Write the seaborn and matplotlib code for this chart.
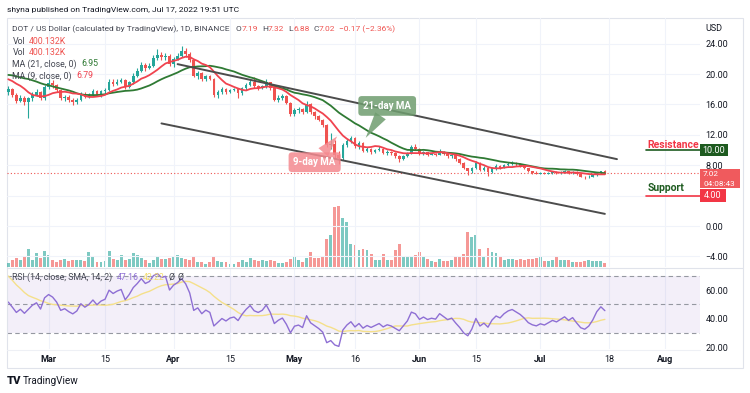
import numpy as np
import pandas as pd
import matplotlib
matplotlib.use("Agg")
import matplotlib.pyplot as plt
import matplotlib.dates as mdates
import matplotlib.transforms as mtrans
import seaborn as sns
from matplotlib.lines import Line2D
from matplotlib.patches import Rectangle

# ---------------- data ----------------
warmup_start = "2022-01-30"        # 20 warm-up days (needed for MA/RSI, left of the view)
first_visible = "2022-02-19"
warmup_close = [18.5, 19.1, 20.0, 18.9, 18.7, 20.8, 21.2, 21.2, 21.8, 21.0,
                21.6, 20.9, 19.5, 19.6, 19.4, 19.8, 21.0, 20.3, 18.6, 17.6]

close = [18.0, 17.3, 16.5, 16.9, 16.3, 16.8, 17.3, 17.6, 16.8, 18.3,
         18.8, 18.5, 17.9, 16.8, 17.0, 16.6, 16.3, 16.6, 17.4, 17.0,
         17.3, 17.8, 17.3, 17.7, 17.9, 19.0, 18.7, 19.0, 19.2, 18.3,
         18.9, 19.8, 20.4, 21.2, 20.8, 21.1, 22.1, 22.5, 22.2, 22.4,
         21.3, 22.0, 22.4, 23.0, 22.6, 21.8, 19.8, 20.1, 19.3, 19.7,
         19.4, 17.2, 17.6, 18.0, 17.6, 17.9, 18.0, 17.5, 18.1, 18.6,
         19.0, 18.4, 18.2, 18.4, 18.9, 18.1, 16.6, 16.9, 17.1, 16.2,
         14.7, 15.3, 15.4, 15.0, 16.1, 15.0, 14.5, 14.0, 13.3, 10.6,
         10.8, 9.4, 8.9, 10.6, 11.2, 11.6, 10.5, 10.9, 9.9, 10.2,
         9.8, 10.0, 10.2, 9.6, 9.8, 9.6, 9.2, 8.8, 9.2, 9.6,
         10.4, 10.2, 9.5, 9.7, 9.4, 9.5, 9.4, 9.8, 9.5, 9.2,
         9.3, 8.8, 8.3, 7.6, 7.2, 7.6, 8.3, 7.4, 7.6, 7.1,
         7.6, 7.9, 7.7, 8.0, 8.2, 8.3, 8.1, 7.9, 7.6, 7.2,
         7.0, 6.9, 7.0, 6.9, 7.0, 7.1, 7.0, 7.1, 7.2, 7.0,
         7.1, 6.8, 6.5, 6.4, 6.5, 6.7, 7.0, 7.19, 7.02]

high = [18.4, 18.2, 17.5, 17.3, 17.1, 17.0, 17.6, 18.0, 17.8, 18.6,
        19.3, 19.2, 18.7, 18.0, 17.3, 17.2, 16.9, 16.9, 17.6, 17.6,
        17.5, 18.0, 17.9, 17.9, 18.2, 19.3, 19.3, 19.4, 19.5, 19.3,
        19.1, 20.1, 20.8, 21.6, 21.4, 21.4, 22.5, 23.3, 22.9, 22.8,
        22.6, 22.3, 22.7, 23.7, 23.4, 22.9, 22.0, 20.4, 20.2, 19.9,
        19.9, 19.5, 17.9, 18.3, 18.2, 18.0, 18.2, 18.1, 18.3, 18.8,
        19.3, 19.6, 18.6, 18.6, 19.4, 19.0, 18.2, 17.2, 17.4, 17.2,
        16.3, 15.5, 15.7, 15.5, 16.4, 16.2, 15.1, 14.6, 14.1, 13.4,
        12.2, 11.3, 9.9, 10.9, 11.5, 11.9, 11.7, 11.2, 11.0, 10.4,
        10.3, 10.2, 10.5, 10.3, 10.0, 9.9, 9.7, 9.3, 9.4, 9.8,
        10.6, 10.8, 10.3, 9.9, 9.8, 9.6, 9.6, 10.1, 9.9, 9.6,
        9.5, 9.4, 8.9, 8.4, 7.7, 7.8, 8.5, 8.4, 7.9, 7.7,
        7.8, 8.1, 8.0, 8.2, 8.4, 8.6, 8.4, 8.3, 8.0, 7.7,
        7.3, 7.2, 7.1, 7.1, 7.1, 7.3, 7.2, 7.3, 7.4, 7.3,
        7.2, 7.2, 6.9, 6.6, 6.7, 6.8, 7.1, 7.3, 7.32]

low = [17.3, 17.0, 16.2, 16.3, 15.9, 14.2, 16.5, 17.1, 16.6, 16.6,
       18.0, 18.1, 17.6, 16.6, 16.5, 16.3, 15.9, 16.0, 16.4, 16.8,
       16.8, 17.1, 17.1, 17.0, 17.4, 17.7, 18.4, 18.5, 18.8, 18.0,
       18.1, 18.7, 19.6, 20.2, 20.4, 20.6, 20.9, 21.9, 21.9, 21.8,
       21.0, 20.9, 21.8, 22.2, 22.3, 21.6, 19.6, 19.4, 19.1, 19.1,
       19.2, 17.0, 16.9, 17.4, 17.4, 17.5, 17.7, 16.9, 17.3, 17.9,
       18.4, 18.2, 17.9, 18.0, 18.2, 17.9, 16.4, 16.3, 16.6, 16.0,
       14.5, 14.5, 14.9, 14.8, 14.9, 14.7, 14.1, 13.8, 13.0, 10.4,
       10.2, 9.0, 8.1, 8.7, 10.4, 10.9, 10.3, 10.2, 9.7, 9.7,
       9.5, 9.6, 9.9, 9.5, 9.4, 9.4, 9.0, 8.4, 8.7, 9.1,
       9.5, 10.0, 9.3, 9.3, 9.2, 9.3, 9.2, 9.3, 9.3, 9.0,
       9.0, 8.6, 8.1, 7.5, 6.7, 7.0, 7.5, 7.3, 7.3, 6.6,
       7.0, 7.4, 7.5, 7.6, 7.9, 8.0, 7.9, 7.8, 7.5, 7.1,
       6.9, 6.8, 6.8, 6.8, 6.8, 6.9, 6.8, 6.9, 7.0, 6.9,
       6.9, 6.7, 6.4, 6.2, 6.3, 6.4, 6.6, 6.9, 6.88]

volume_k = [430, 670, 930, 700, 1070, 1770, 700, 1400, 930, 1570,
            1200, 700, 530, 700, 770, 600, 730, 670, 670, 600,
            1500, 1100, 530, 530, 600, 1570, 800, 670, 1170, 730,
            800, 1430, 1170, 930, 730, 400, 670, 1000, 830, 770,
            870, 1000, 1230, 930, 800, 730, 1000, 500, 470, 330,
            500, 1100, 600, 470, 470, 300, 300, 470, 670, 470,
            930, 670, 630, 700, 570, 670, 600, 430, 430, 530,
            800, 1070, 670, 530, 870, 1500, 870, 870, 1000, 2830,
            3170, 6030, 6100, 4930, 4500, 2330, 2170, 1700, 1800, 1700,
            1330, 670, 670, 1270, 700, 670, 1670, 2330, 1000, 1000,
            1070, 1200, 1470, 1000, 770, 570, 470, 770, 600, 600,
            730, 1000, 1000, 1270, 3500, 3030, 3200, 1770, 1070, 1900,
            1530, 1400, 1130, 700, 770, 800, 670, 800, 670, 800,
            800, 870, 1000, 600, 600, 700, 1070, 730, 730, 730,
            470, 470, 530, 570, 670, 630, 600, 600, 400.132]

date_ticks = ["2022-03-01", "2022-03-15", "2022-04-01", "2022-04-15", "2022-05-01", "2022-05-16",
              "2022-06-01", "2022-06-15", "2022-07-01", "2022-07-18", "2022-08-01"]
date_labels = ["Mar", "15", "Apr", "15", "May", "16", "Jun", "15", "Jul", "18", "Aug"]
price_ticks = [24, 20, 16, 12, 8, 0, -4]
rsi_ticks = [20, 40, 60]

# drawn annotations (date, price)
upper_channel = [("2022-04-02", 21.3), ("2022-07-20", 8.8)]
lower_channel = [("2022-03-29", 13.5), ("2022-07-17", 1.6)]
resistance_level, support_level, last_price = 10.0, 4.0, 7.02

# ---------------- style ----------------
sns.set_theme(style="white")
plt.rcParams['font.family'] = ['Roboto', 'DejaVu Sans']
GREEN, RED = '#26a69a', '#ef5350'
DARK = '#434651'
W, H = 750, 393

fig = plt.figure(figsize=(W / 100, H / 100), dpi=100)
fig.patch.set_facecolor('white')


def rect(x0, y0, x1, y1):
    return [x0 / W, 1 - y1 / H, (x1 - x0) / W, (y1 - y0) / H]


ax = fig.add_axes(rect(7, 18, 700, 267))
axv = ax.twinx()
axr = fig.add_axes(rect(7, 268, 700, 349), sharex=ax)
ax.set_zorder(2)
axv.set_zorder(1)
ax.patch.set_visible(False)


def dn(s):
    return mdates.date2num(pd.Timestamp(s))


# ---------------- computed series ----------------
dates_all = pd.date_range(warmup_start, periods=len(warmup_close) + len(close), freq='D')
df = pd.DataFrame({'x': mdates.date2num(dates_all), 'close': warmup_close + close})
df['ma9'] = df['close'].rolling(9).mean()
df['ma21'] = df['close'].rolling(21).mean()
d = df['close'].diff()
up_avg = d.clip(lower=0).ewm(alpha=1 / 14, adjust=False).mean()
dn_avg = (-d.clip(upper=0)).ewm(alpha=1 / 14, adjust=False).mean()
df['rsi'] = 100 - 100 / (1 + up_avg / dn_avg)
df['rsi_sma'] = df['rsi'].rolling(14).mean()

nw = len(warmup_close)
vis = df.iloc[nw:].copy()
xv = vis['x'].values
c = np.array(close)
o = np.array(df['close'].values[nw - 1:-1])
hi, lo = np.array(high), np.array(low)
cols = np.where(c >= o, GREEN, RED)

x_left = dn(first_visible) - 0.32
x_right = dn(first_visible) + 171.6

# ---------------- price pane ----------------
for t in date_ticks:
    ax.axvline(dn(t), color='#f0f3fa', lw=0.8, zorder=0)
    axr.axvline(dn(t), color='#f0f3fa', lw=0.8, zorder=0)
for p in price_ticks + [4]:
    ax.axhline(p, color='#f0f3fa', lw=0.8, zorder=0)

axv.bar(xv, volume_k, width=0.72, color=cols, alpha=0.6, linewidth=0)
axv.set_ylim(0, 24900)
axv.axis('off')

ax.vlines(xv, lo, hi, colors=cols, lw=0.8, zorder=3)
ax.bar(xv, np.maximum(np.abs(c - o), 0.07), bottom=np.minimum(o, c), width=0.66,
       color=cols, linewidth=0, zorder=4)

sns.lineplot(data=vis, x='x', y='ma21', ax=ax, color='#2f7a34', lw=1.3, zorder=5)
sns.lineplot(data=vis, x='x', y='ma9', ax=ax, color='#f0434f', lw=1.3, zorder=5)

for seg in (upper_channel, lower_channel):
    ax.plot([dn(seg[0][0]), dn(seg[1][0])], [seg[0][1], seg[1][1]], color='#4c4c4c', lw=1.4,
            solid_capstyle='round', zorder=6)

ax.axhline(last_price, color=RED, ls=(0, (1, 2)), lw=0.8, zorder=2)

ax.set_xlim(x_left, x_right)
ax.set_ylim(-5.39, 27.37)
ax.yaxis.tick_right()
ax.set_yticks(price_ticks)
ax.set_yticklabels([f"{p:.2f}".replace('-', '−') for p in price_ticks])
ax.tick_params(axis='y', length=0, pad=4, labelsize=6.5, labelcolor='#131722')
ax.tick_params(axis='x', length=0, labelbottom=False)
ax.set_xlabel('')
ax.set_ylabel('')
for s in ax.spines.values():
    s.set_visible(False)

# callouts
ax.annotate("21-day MA", xy=(dn("2022-05-18 16:00"), 11.6), xytext=(dn("2022-05-24"), 15.8),
            ha='center', va='center', color='white', fontsize=7, fontweight='bold',
            bbox=dict(boxstyle='round,pad=0.5,rounding_size=0.35', fc='#6f9d6f', ec='none', alpha=0.85),
            arrowprops=dict(arrowstyle='wedge,tail_width=1.3,shrink_factor=0.5', fc='#6f9d6f', ec='none',
                            alpha=0.85, shrinkA=0, shrinkB=0), zorder=7)
ax.annotate("9-day MA", xy=(dn("2022-05-11 14:00"), 11.8), xytext=(dn("2022-05-06"), 8.4),
            ha='center', va='center', color='white', fontsize=7, fontweight='bold',
            bbox=dict(boxstyle='round,pad=0.5,rounding_size=0.35', fc='#f48a90', ec='none', alpha=0.85),
            arrowprops=dict(arrowstyle='wedge,tail_width=1.3,shrink_factor=0.5', fc='#f48a90', ec='none',
                            alpha=0.85, shrinkA=0, shrinkB=0), zorder=7)

# resistance / support labels
lab_x = dn("2022-07-27 12:00")
ax.text(lab_x, 10.66, "Resistance", color='#f23645', fontsize=7.5, fontweight='bold',
        va='center', ha='left', zorder=7)
ax.plot([lab_x - 0.4, x_right], [resistance_level] * 2, color='#1e5b20', lw=1.2, zorder=7)
ax.text(lab_x, 5.0, "Support", color='#1e5b20', fontsize=7.5, fontweight='bold',
        va='center', ha='left', zorder=7)
ax.plot([lab_x - 0.4, x_right], [support_level] * 2, color='#f23645', lw=1.2, zorder=7)

trans = mtrans.blended_transform_factory(ax.transAxes, ax.transData)
px = 1 / 693


def scale_box(y_lo, y_hi, w_px, color):
    ax.add_patch(Rectangle((1.0, y_lo), w_px * px, y_hi - y_lo, transform=trans, fc=color,
                           ec='none', clip_on=False, zorder=8))


scale_box(resistance_level - 0.85, resistance_level + 0.85, 28, '#1e5b20')
ax.text(1.0 + 14 * px, resistance_level, "10.00", transform=trans, ha='center', va='center',
        color='white', fontsize=6.5, clip_on=False, zorder=9)
scale_box(support_level - 0.85, support_level + 0.85, 26, '#f23645')
ax.text(1.0 + 13 * px, support_level, "4.00", transform=trans, ha='center', va='center',
        color='white', fontsize=6.5, clip_on=False, zorder=9)
scale_box(5.0, 7.55, 40, '#f05a5d')
ax.text(1.0 + 3 * px, 6.88, "7.02", transform=trans, ha='left', va='center',
        color='white', fontsize=5.9, clip_on=False, zorder=9)
ax.text(1.0 + 3 * px, 5.55, "04:08:43", transform=trans, ha='left', va='center',
        color='white', fontsize=5.9, clip_on=False, zorder=9)
ax.text(1.0 + 5 * px, 26.0, "USD", transform=trans, ha='left', va='center',
        color='#131722', fontsize=6.5, clip_on=False)

# ---------------- RSI pane ----------------
axr.axhspan(30, 70, color='#7e57c2', alpha=0.09, lw=0, zorder=0)
for lvl in (70, 50, 30):
    axr.axhline(lvl, color='#9598a1', ls=(0, (4, 3)), lw=0.8, zorder=1)
sns.lineplot(data=vis, x='x', y='rsi_sma', ax=axr, color='#f5e08a', lw=1.0, zorder=2)
sns.lineplot(data=vis, x='x', y='rsi', ax=axr, color='#8e6fd4', lw=1.0, zorder=3)
axr.set_ylim(18.6, 75.7)
axr.set_xlim(x_left, x_right)
axr.yaxis.tick_right()
axr.set_yticks(rsi_ticks)
axr.set_yticklabels([f"{r:.2f}" for r in rsi_ticks])
axr.set_xticks([dn(t) for t in date_ticks])
axr.set_xticklabels(date_labels)
axr.tick_params(axis='y', length=0, pad=4, labelsize=6.5, labelcolor='#131722')
axr.tick_params(axis='x', length=0, pad=4, labelsize=6.5, labelcolor='#131722')
for lbl in axr.get_xticklabels():
    if lbl.get_text().isalpha():
        lbl.set_fontweight('bold')
axr.set_xlabel('')
axr.set_ylabel('')
for s in axr.spines.values():
    s.set_visible(False)

# ---------------- frame ----------------
fig.add_artist(Rectangle((7 / W, 1 - 368 / H), 736 / W, 350 / H, transform=fig.transFigure,
                         fill=False, ec='#e0e3eb', lw=0.8))
fig.add_artist(Line2D([7 / W, 743 / W], [1 - 267.5 / H] * 2, color='#e0e3eb', lw=0.8))
fig.add_artist(Line2D([7 / W, 700 / W], [1 - 349.5 / H] * 2, color='#eef0f5', lw=0.8))

# ---------------- texts ----------------
renderer = fig.canvas.get_renderer()


def rich(x_px, y_px, parts, size=6.3):
    x = x_px
    for txt, col, gap in parts:
        t = fig.text(x / W, 1 - y_px / H, txt, color=col, fontsize=size, va='center', ha='left')
        x += t.get_window_extent(renderer=renderer).width + gap


fig.text(7 / W, 1 - 10 / H, "shyna published on TradingView.com, Jul 17, 2022 19:51 UTC",
         fontsize=6.1, color='#131722', va='center', ha='left')
rich(12.5, 29, [("DOT / US Dollar (calculated by TradingView), 1D, BINANCE", DARK, 6),
                ("O", DARK, 0), ("7.19", RED, 4), ("H", DARK, 0), ("7.32", RED, 4),
                ("L", DARK, 0), ("6.88", RED, 4), ("C", DARK, 0), ("7.02", RED, 4),
                ("−0.17 (−2.36%)", RED, 0)], size=6.05)
rich(12.5, 41.5, [("Vol", DARK, 4), ("400.132K", RED, 0)])
rich(12.5, 52.5, [("Vol", DARK, 4), ("400.132K", RED, 0)])
rich(12.5, 64, [("MA (21, close, 0)", DARK, 4), ("6.95", '#2f7a34', 0)])
rich(12.5, 76, [("MA (9, close, 0)", DARK, 4), ("6.79", '#f0434f', 0)])
rich(12.5, 277, [("RSI (14, close, SMA, 14, 2)", DARK, 4), ("47.16", '#8e6fd4', 4),
                 ("42.22", '#f2dc6f', 4), ("Ø", DARK, 3), ("Ø", DARK, 0)])

fig.text(7 / W, 1 - 381 / H, "TV", fontsize=8, fontweight='heavy', color='#131722', va='center', ha='left')
fig.text(23 / W, 1 - 381 / H, "TradingView", fontsize=7.2, color='#131722', va='center', ha='left')

fig.savefig("out.png", dpi=100, facecolor='white')
